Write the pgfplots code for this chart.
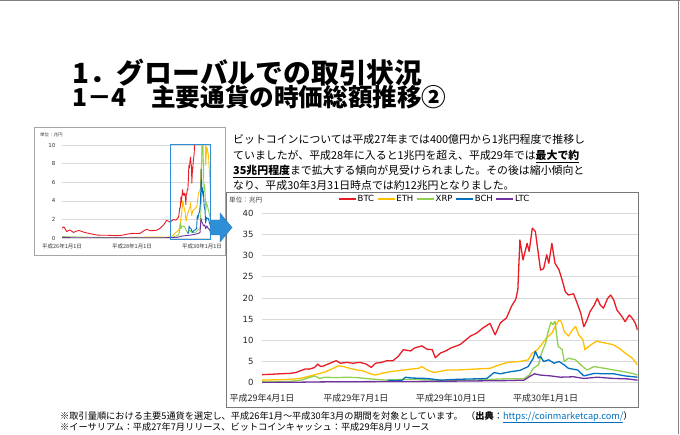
\documentclass[border=0pt]{standalone}
\usepackage{fontspec}
\usepackage{pgfplots}
\usepackage{pgfplotstable}
\pgfplotsset{compat=1.18}
\setmainfont{DejaVu Sans}
\newfontfamily\jp{Noto Sans CJK JP}
\definecolor{btc}{RGB}{232,28,36}
\definecolor{eth}{RGB}{255,192,0}
\definecolor{xrp}{RGB}{146,208,80}
\definecolor{bch}{RGB}{0,112,192}
\definecolor{ltc}{RGB}{112,48,160}
\definecolor{gridc}{RGB}{217,217,217}
\definecolor{framec}{RGB}{120,120,120}
\definecolor{arrowc}{RGB}{46,142,214}

% main chart: days from 2017-04-01, values in trillion yen
\pgfplotstableread{
d v
0 1.9
10 2.0
17 2.1
27 2.2
33 2.4
37 2.8
42 3.25
46 3.2
51 3.6
54 4.4
57 3.8
59 3.9
64 4.4
69 4.9
72 5.2
76 4.6
82 4.8
88 4.6
95 4.8
101 4.4
106 3.6
110 4.6
116 4.8
121 5.2
127 5.2
132 6.2
137 7.8
144 7.5
148 8.2
155 8.7
160 7.9
165 7.8
168 5.9
173 7.0
179 7.6
183 8.2
192 9.0
202 11.0
208 11.7
214 12.9
221 14.0
226 11.3
231 14.1
237 15.3
242 18.1
246 19.7
248 22.0
250 33.7
253 29.0
257 32.9
259 31.0
262 36.5
265 35.7
268 30.2
270 26.6
273 26.9
276 30.2
278 28.2
281 32.9
284 28.2
288 26.6
291 24.2
294 21.5
297 20.7
302 21.0
305 19.1
309 16.4
312 13.2
315 14.8
318 16.8
322 18.3
325 19.9
328 18.3
331 17.6
335 19.9
338 20.7
341 19.5
344 17.2
349 15.6
352 14.4
356 16.0
359 15.2
362 14.0
364 12.4
}\btcmain

\pgfplotstableread{
d v
0 0.6
15 0.7
27 0.8
37 1.0
47 1.6
56 2.2
62 2.6
69 3.4
74 4.0
79 3.8
85 3.4
92 3.0
98 2.8
105 2.1
110 1.8
116 2.2
124 2.6
134 2.9
144 3.2
152 3.4
155 3.8
160 3.0
167 2.4
173 2.7
180 3.0
189 3.0
205 3.2
221 3.4
230 4.2
238 4.8
250 5.0
258 5.4
262 7.0
267 7.8
271 9.0
276 10.6
281 11.7
285 13.7
288 14.8
290 14.5
293 12.1
297 11.0
301 12.5
304 13.3
307 11.3
311 10.2
313 7.8
317 8.6
324 9.8
332 9.4
340 9.0
346 8.2
352 7.0
359 5.8
364 4.2
}\ethmain

\pgfplotstableread{
d v
0 0.2
27 0.3
38 0.6
47 1.3
51 1.6
56 1.0
61 1.3
72 1.2
82 1.3
92 1.2
105 0.9
121 0.6
137 0.8
150 0.8
170 0.6
205 0.6
238 0.95
254 0.95
259 1.8
263 3.4
268 4.2
271 7.0
275 9.4
277 11.7
280 14.3
282 13.7
284 14.5
287 8.6
291 7.8
293 5.0
297 5.8
304 5.4
309 4.2
315 3.0
322 3.8
332 3.4
341 3.0
351 2.6
359 2.2
364 1.8
}\xrpmain

\pgfplotstableread{
d v
122 0.6
130 0.5
136 0.6
139 1.3
145 1.1
160 1.0
173 0.6
189 0.8
205 0.9
218 1.0
225 2.4
231 2.1
241 2.6
250 2.9
258 3.8
263 5.8
265 7.4
268 5.8
270 6.2
273 5.0
278 5.4
283 4.6
288 5.0
293 4.2
297 3.4
306 3.0
312 1.6
322 2.2
332 2.1
341 2.1
352 1.6
364 1.3
}\bchmain

\pgfplotstableread{
d v
0 0.05
30 0.1
60 0.2
100 0.25
150 0.3
200 0.4
238 0.5
254 0.6
259 1.4
264 2.1
270 1.8
280 1.6
289 1.3
302 1.4
312 1.0
325 1.3
341 1.0
354 0.9
364 0.6
}\ltcmain

% inset: days from 2014-01-01, up to 2017-04-01 (day 1186)
\pgfplotstableread{
d v
0 1.05
20 1.2
49 0.7
83 0.86
120 0.6
153 0.75
180 0.8
220 0.65
257 0.55
300 0.45
362 0.32
400 0.3
466 0.3
520 0.27
570 0.25
630 0.3
674 0.4
700 0.45
730 0.5
780 0.48
813 0.5
850 0.75
883 0.93
920 0.8
952 0.79
990 0.85
1022 1.04
1060 1.4
1091 1.9
1130 1.7
1161 2.0
1186 1.9
}\btcearly

\pgfplotstableread{
d v
577 0.01
800 0.08
1000 0.1
1100 0.08
1150 0.2
1186 0.6
}\ethearly

\pgfplotstableread{
d v
0 0.15
200 0.1
400 0.06
700 0.03
1000 0.03
1150 0.05
1186 0.2
}\xrpearly

\pgfplotstableread{
d v
0 0.05
100 0.03
400 0.01
700 0.02
1000 0.02
1186 0.05
}\ltcearly

\begin{document}
\begin{tikzpicture}
\path[use as bounding box] (0pt,0pt) rectangle (680pt,434pt);
\draw[gray, line width=1pt] (0pt,433pt) -- (680pt,433pt);
\draw[gray, line width=1pt] (678.5pt,0pt) -- (678.5pt,434pt);

% titles
\node[anchor=base west, inner sep=0pt, font=\jp\bfseries\fontsize{27.8}{27.8}\selectfont] at (72pt,350pt) {1．グローバルでの取引状況};
\node[anchor=base west, inner sep=0pt, font=\jp\bfseries\fontsize{24.6}{24.6}\selectfont] at (72pt,327pt) {1－4　主要通貨の時価総額推移②};

% paragraph
\begin{scope}[every node/.style={anchor=base west, inner sep=0pt, font=\jp\fontsize{10.9}{10.9}\selectfont}]
\node at (233pt,290pt) {ビットコインについては平成27年までは400億円から1兆円程度で推移し};
\node at (233pt,274.5pt) {ていましたが、平成28年に入ると1兆円を超え、平成29年では\underline{\bfseries 最大で約}};
\node at (233pt,259pt) {\underline{\bfseries 35兆円程度}まで拡大する傾向が見受けられました。その後は縮小傾向と};
\node at (233pt,244.5pt) {なり、平成30年3月31日時点では約12兆円となりました。};
\end{scope}

% footnotes
\begin{scope}[every node/.style={anchor=base west, inner sep=0pt, font=\jp\fontsize{9.2}{9.2}\selectfont}]
\node at (60pt,15pt) {※取引量順における主要5通貨を選定し、平成26年1月～平成30年3月の期間を対象としています。};
\node at (60pt,4pt) {※イーサリアム：平成27年7月リリース、ビットコインキャッシュ：平成29年8月リリース};
\node at (466pt,15pt) {（\textbf{出典}：\textcolor{bch}{\underline{https://coinmarketcap.com/}}）};
\end{scope}

% inset chart
\draw[gray!70, line width=0.8pt] (34pt,179pt) rectangle (225pt,307pt);
\node[anchor=west, inner sep=0pt, font=\jp\fontsize{4.5}{4.5}\selectfont, text=black!75] at (40pt,299pt) {単位：兆円};
\begin{axis}[
  at={(62pt,196pt)}, anchor=south west,
  scale only axis, width=148.6pt, height=93pt,
  xmin=0, xmax=1550, ymin=0, ymax=10,
  axis line style={draw=none}, major tick style={draw=none},
  ytick={0,2,...,10}, ymajorgrids, grid style={gridc, line width=0.5pt},
  xtick={0,730,1461},
  xticklabels={平成26年1月1日,平成28年1月1日,平成30年1月1日},
  xticklabel style={font=\jp\fontsize{5.5}{5.5}\selectfont, text=black!80, yshift=-2pt},
  yticklabel style={font=\fontsize{5.5}{5.5}\selectfont, text=black!80, xshift=-3pt},
  /pgf/number format/assume math mode=true,
  every axis plot/.append style={line width=0.9pt, line join=round},
]
\addplot[btc] table[x=d, y=v] {\btcearly};
\addplot[btc] table[x expr=\thisrow{d}+1186, y=v] {\btcmain};
\addplot[eth] table[x=d, y=v] {\ethearly};
\addplot[eth] table[x expr=\thisrow{d}+1186, y=v] {\ethmain};
\addplot[xrp] table[x=d, y=v] {\xrpearly};
\addplot[xrp] table[x expr=\thisrow{d}+1186, y=v] {\xrpmain};
\addplot[bch] table[x expr=\thisrow{d}+1186, y=v] {\bchmain};
\addplot[ltc] table[x=d, y=v] {\ltcearly};
\addplot[ltc] table[x expr=\thisrow{d}+1186, y=v] {\ltcmain};
\end{axis}
\draw[arrowc, line width=1pt] (170pt,194pt) rectangle (210pt,289pt);

% main chart
\draw[framec, line width=1pt] (226pt,27pt) rectangle (638pt,241pt);
\node[anchor=west, inner sep=0pt, font=\jp\fontsize{6.6}{6.6}\selectfont, text=black!75] at (229pt,234pt) {単位：兆円};
\begin{axis}[
  at={(262pt,51.3pt)}, anchor=south west,
  scale only axis, width=375.5pt, height=169.4pt,
  xmin=0, xmax=364, ymin=0, ymax=40,
  axis line style={draw=none}, major tick style={draw=none},
  ytick={0,5,...,40}, ymajorgrids, grid style={gridc, line width=0.8pt},
  xtick={0,91,183,275},
  xticklabels={平成29年4月1日,平成29年7月1日,平成29年10月1日,平成30年1月1日},
  xticklabel style={font=\jp\fontsize{9}{9}\selectfont, text=black!85, yshift=-8pt},
  yticklabel style={font=\fontsize{8.5}{8.5}\selectfont, text=black!85, xshift=-5pt},
  /pgf/number format/assume math mode=true,
  every axis plot/.append style={line width=1.3pt, line join=round},
  legend columns=-1,
  legend style={draw=none, fill=none, at={(0.459,1.084)}, anchor=center,
    font=\fontsize{8.5}{8.5}\selectfont, inner sep=0pt,
    nodes={inner sep=1pt},
    /tikz/every even column/.append style={column sep=2pt}},
  legend image code/.code={\draw[#1] (0pt,0pt) -- (17pt,0pt);},
]
\addplot[btc] table[x=d, y=v] {\btcmain};
\addlegendentry{BTC}
\addplot[eth] table[x=d, y=v] {\ethmain};
\addlegendentry{ETH}
\addplot[xrp] table[x=d, y=v] {\xrpmain};
\addlegendentry{XRP}
\addplot[bch] table[x=d, y=v] {\bchmain};
\addlegendentry{BCH}
\addplot[ltc] table[x=d, y=v] {\ltcmain};
\addlegendentry{LTC}
\end{axis}

% arrow
\filldraw[fill=arrowc, draw=arrowc!85!black, line width=0.4pt]
  (210pt,214pt) -- (220pt,214pt) -- (220pt,221pt) -- (232pt,206.5pt)
  -- (220pt,192pt) -- (220pt,199pt) -- (210pt,199pt) -- cycle;
\end{tikzpicture}
\end{document}
